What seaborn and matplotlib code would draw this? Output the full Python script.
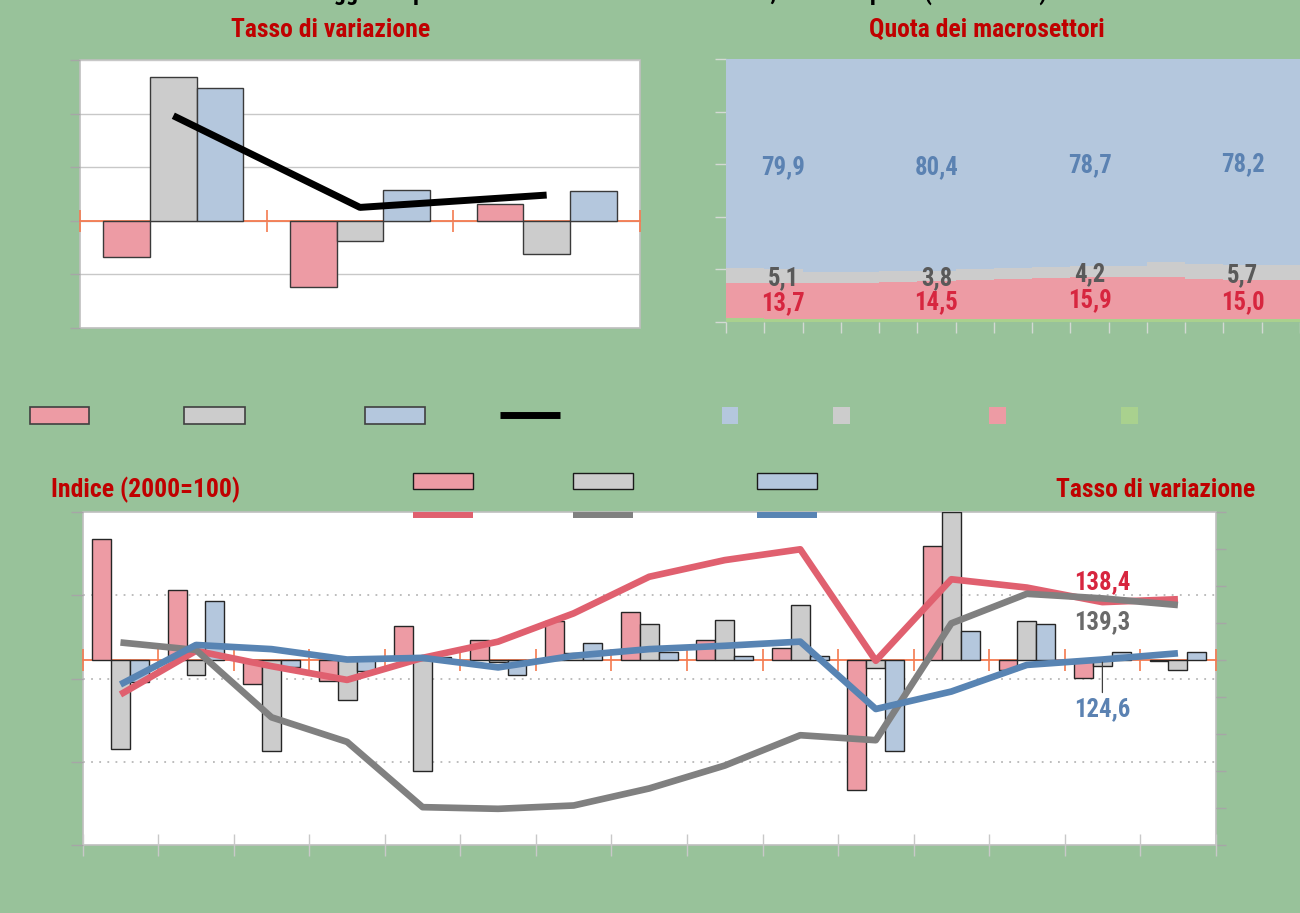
import numpy as np
import pandas as pd
import matplotlib
matplotlib.use("Agg")
import matplotlib.pyplot as plt
import seaborn as sns
from matplotlib import font_manager as fm
from matplotlib.patches import Rectangle
from matplotlib.lines import Line2D
from matplotlib.transforms import blended_transform_factory

# ---------------------------------------------------------------- data
settori = ["Industria", "Costruzioni", "Servizi"]

# tasso di variazione per periodo
periodi = ["P1", "P2", "P3"]
var_industria = [-1.36, -2.46, 0.62]
var_costruzioni = [5.36, -0.76, -1.24]
var_servizi = [4.94, 1.16, 1.12]
var_totale = [3.92, 0.50, 0.96]

# quota dei macrosettori (%)
anni = list(range(2000, 2015))
quota_servizi = [79.5, 79.9, 80.8, 80.8, 80.5, 80.4, 79.7, 79.3, 79.1, 78.7, 78.7, 77.2, 77.9, 78.2, 78.2]
quota_costruzioni = [5.5, 5.1, 4.5, 4.5, 4.2, 3.8, 4.2, 4.2, 4.1, 4.2, 4.2, 5.5, 5.7, 5.7, 5.7]
quota_industria = [13.6, 13.7, 13.4, 13.4, 14.0, 14.5, 14.9, 15.3, 15.6, 15.9, 15.9, 16.2, 15.3, 15.0, 15.0]
quota_agricoltura = [1.4, 1.3, 1.3, 1.3, 1.3, 1.3, 1.2, 1.2, 1.2, 1.2, 1.2, 1.1, 1.1, 1.1, 1.1]
anni_etichettati = [2001, 2005, 2009, 2013]

# tasso di variazione annuo
tasso_industria = [6.54, 3.82, -1.30, -1.14, 1.84, 1.11, 2.10, 2.61, 1.11, 0.65, -7.01, 6.16, -0.54, -0.97, -0.05]
tasso_costruzioni = [-4.78, -0.78, -4.92, -2.15, -6.02, -0.08, 0.38, 1.96, 2.18, 2.99, -0.43, 8.00, 2.12, -0.34, -0.51]
tasso_servizi = [-1.20, 3.19, -0.38, -0.60, 0.16, -0.79, 0.92, 0.45, 0.25, 0.25, -4.94, 1.58, 1.98, 0.46, 0.46]

# indice (2000=100)
indice_industria = [116.2, 126.7, 123.0, 119.7, 125.0, 128.9, 135.7, 144.5, 148.5, 151.1, 124.3, 143.9, 141.9, 138.4, 139.1]
indice_costruzioni = [128.7, 126.9, 110.7, 104.8, 89.1, 88.7, 89.5, 93.6, 99.1, 106.4, 105.2, 133.3, 140.4, 139.3, 137.7]
indice_servizi = [118.6, 128.1, 127.1, 124.6, 125.0, 122.7, 125.5, 127.1, 127.9, 128.9, 112.7, 116.9, 123.3, 124.6, 126.1]
anno_etichetta_indice = 2013

# ---------------------------------------------------------------- style
BG = "#98C29A"
bar_colors = {"Industria": "#ED9BA4", "Costruzioni": "#CCCCCC", "Servizi": "#B4C7DD"}
area_colors = {"Industria": "#ED9BA4", "Costruzioni": "#CCCCCC", "Servizi": "#B4C7DD",
               "Agricoltura": "#A9D18E"}
line_colors = {"Industria": "#E0606F", "Costruzioni": "#808080", "Servizi": "#5884B3"}
text_colors = {"Industria": "#D7263F", "Costruzioni": "#595959", "Servizi": "#5B82B2"}
DARKRED = "#C00000"
ORANGE = "#F47A4F"
FRAME = "#BFBFBF"
TICK = "#A6A6A6"

sns.set_theme(style="white")


def narrow_family():
    names = {f.name for f in fm.fontManager.ttflist}
    for cand in ("Liberation Sans Narrow", "Arial Narrow", "Noto Sans Condensed",
                 "Roboto Condensed", "Open Sans Condensed", "DejaVu Sans Condensed"):
        if cand in names:
            return cand
    return "Liberation Sans" if "Liberation Sans" in names else "DejaVu Sans"


FAM = narrow_family()
plt.rcParams["font.family"] = [FAM, "DejaVu Sans"]

W, H = 1300, 913
fig = plt.figure(figsize=(W / 100, H / 100), dpi=100)
fig.patch.set_facecolor(BG)

# font size so that a title keeps the width of a condensed bold face
probe = fig.text(0, 0, "Tasso di variazione", fontsize=19, fontweight="bold")
pw = probe.get_window_extent(fig.canvas.get_renderer()).width
probe.remove()
k = min(1.0, 199.6 / pw)
TITLE = 19 * k
NUM = 18.4 * k


def fmt(v):
    return f"{v:.1f}".replace(".", ",")


def fx(px):
    return px / W


def fy(py):
    return 1 - py / H


# ---------------------------------------------------------------- top-left: tasso di variazione
ax1 = fig.add_axes([fx(80), fy(328), 560 / W, 268 / H])
ax1.set_facecolor("white")
df1 = pd.DataFrame({
    "periodo": periodi * 3,
    "settore": np.repeat(settori, len(periodi)),
    "tasso": var_industria + var_costruzioni + var_servizi,
})
sns.barplot(data=df1, x="periodo", y="tasso", hue="settore", hue_order=settori,
            palette=bar_colors, saturation=1, width=0.75, edgecolor="#3A3A3A",
            linewidth=1, errorbar=None, legend=False, ax=ax1, zorder=2)
sns.lineplot(x=np.arange(len(periodi)), y=var_totale, color="black", linewidth=5,
             solid_capstyle="butt", ax=ax1, zorder=3)
ax1.set_xlim(-0.5, len(periodi) - 0.5)
ax1.set_ylim(-4, 6)
ax1.set_yticks(np.arange(-4, 7, 2))
ax1.set_xticks(np.arange(-0.5, len(periodi), 1))
ax1.set_xlabel("")
ax1.set_ylabel("")
ax1.set_axisbelow(True)
ax1.yaxis.grid(True, color="#C8C8C8", lw=1)
ax1.xaxis.grid(False)
ax1.tick_params(axis="x", direction="inout", length=16, width=1.2, color=ORANGE,
                bottom=True, labelbottom=False)
ax1.tick_params(axis="y", direction="out", length=7, width=1, color=TICK,
                left=True, labelleft=False)
for s in ("left", "right", "top"):
    ax1.spines[s].set_visible(False)
ax1.spines["bottom"].set_position(("data", 0))
ax1.spines["bottom"].set_color(ORANGE)
ax1.spines["bottom"].set_linewidth(1.3)
ax1.spines["bottom"].set_zorder(1.5)
ax1.patch.set_edgecolor(FRAME)
ax1.patch.set_linewidth(1.2)

# ---------------------------------------------------------------- top-right: quota dei macrosettori
ax2 = fig.add_axes([fx(726), fy(322), 574 / W, 262.5 / H])
ax2.set_facecolor(BG)
df2 = pd.DataFrame({
    "anno": anni * 4,
    "settore": np.repeat(["Servizi", "Costruzioni", "Industria", "Agricoltura"], len(anni)),
    "quota": quota_servizi + quota_costruzioni + quota_industria + quota_agricoltura,
})
sns.histplot(data=df2, x="anno", weights="quota", hue="settore",
             hue_order=["Servizi", "Costruzioni", "Industria", "Agricoltura"],
             palette=area_colors, multiple="fill", discrete=True, shrink=1,
             element="bars", linewidth=0, alpha=1, antialiased=False,
             legend=False, ax=ax2)
tab = df2.pivot(index="anno", columns="settore", values="quota")
tot = tab.sum(axis=1)
for a in anni_etichettati:
    base = 0.0
    for s in ["Agricoltura", "Industria", "Costruzioni", "Servizi"]:
        v = tab.loc[a, s]
        if s != "Agricoltura":
            ax2.text(a, (base + v / 2) / tot[a], fmt(v), ha="center", va="center_baseline",
                     color=text_colors[s], fontsize=NUM, fontweight="bold")
        base += v
ax2.set_xlim(anni[0] - 0.5, anni[-1] + 0.5)
ax2.set_ylim(0, 1)
ax2.set_yticks(np.arange(0, 1.01, 0.2))
ax2.set_xticks(np.arange(anni[0] - 0.5, anni[-1] + 1, 1))
ax2.set_xlabel("")
ax2.set_ylabel("")
ax2.tick_params(axis="both", direction="out", length=8, width=1, color="#D3D9D3",
                left=True, bottom=True, labelleft=False, labelbottom=False)
for s in ax2.spines.values():
    s.set_visible(False)

# ---------------------------------------------------------------- bottom: tasso (bars) + indice (lines)
ax3 = fig.add_axes([fx(82.7), fy(845), 1133 / W, 332.7 / H])
ax3.set_facecolor("white")
axL = ax3.twinx()

df3 = pd.DataFrame({
    "anno": anni * 3,
    "settore": np.repeat(settori, len(anni)),
    "tasso": tasso_industria + tasso_costruzioni + tasso_servizi,
})
sns.barplot(data=df3, x="anno", y="tasso", hue="settore", hue_order=settori,
            palette=bar_colors, saturation=1, width=0.75, edgecolor="#262626",
            linewidth=1, errorbar=None, legend=False, ax=ax3, zorder=2)

pos = np.arange(len(anni))
df4 = pd.DataFrame({
    "pos": np.tile(pos, 3),
    "settore": np.repeat(settori, len(anni)),
    "indice": indice_industria + indice_costruzioni + indice_servizi,
})
sns.lineplot(data=df4, x="pos", y="indice", hue="settore", hue_order=settori,
             palette=line_colors, linewidth=4.8, solid_capstyle="butt",
             legend=False, ax=axL)

ax3.set_xlim(-0.5, len(anni) - 0.5)
ax3.set_ylim(-10, 8)
axL.set_ylim(80, 160)

# dotted grid of the index scale, kept behind the bars
grid_tr = blended_transform_factory(ax3.transAxes, axL.transData)
for v in (100, 120, 140):
    ax3.add_artist(Line2D([0, 1], [v, v], transform=grid_tr, color="#B8B8B8",
                          lw=1.3, ls=(0, (1, 3.5)), zorder=0.6))

ax3.set_axisbelow(True)
ax3.grid(False)
ax3.set_xticks(np.arange(-0.5, len(anni), 1))
ax3.set_yticks(np.arange(-10, 9, 2))
ax3.yaxis.tick_right()
ax3.tick_params(axis="x", direction="inout", length=16, width=1.2, color=ORANGE,
                bottom=True, labelbottom=False)
ax3.tick_params(axis="y", direction="out", length=7, width=1, color=TICK,
                right=True, left=False, labelright=False, labelleft=False)
for s in ("left", "right", "top"):
    ax3.spines[s].set_visible(False)
ax3.spines["bottom"].set_position(("data", 0))
ax3.spines["bottom"].set_color(ORANGE)
ax3.spines["bottom"].set_linewidth(1.3)
ax3.spines["bottom"].set_zorder(1.5)
ax3.patch.set_edgecolor(FRAME)
ax3.patch.set_linewidth(1.2)
ax3.set_xlabel("")
ax3.set_ylabel("")

axL.xaxis.set_visible(True)
axL.yaxis.tick_left()
axL.set_yticks(np.arange(80, 161, 20))
axL.tick_params(axis="x", direction="inout", length=16, width=1, color="#C8C8C8",
                bottom=True, top=False, labelbottom=False)
axL.tick_params(axis="y", direction="out", length=8.5, width=1, color=TICK,
                left=True, right=False, labelleft=False, labelright=False)
for s in axL.spines.values():
    s.set_visible(False)
axL.grid(False)
axL.set_xlabel("")
axL.set_ylabel("")

i_lab = anni.index(anno_etichetta_indice)
axL.annotate(fmt(indice_industria[i_lab]), xy=(i_lab, indice_industria[i_lab]),
             xytext=(0, 16), textcoords="offset points", ha="center", va="center_baseline",
             color=text_colors["Industria"], fontsize=NUM, fontweight="bold")
axL.annotate(fmt(indice_costruzioni[i_lab]), xy=(i_lab, indice_costruzioni[i_lab]),
             xytext=(0, -15.6), textcoords="offset points", ha="center", va="center_baseline",
             color="#6A6A6A", fontsize=NUM, fontweight="bold")
axL.annotate(fmt(indice_servizi[i_lab]), xy=(i_lab, indice_servizi[i_lab]),
             xytext=(0, -34), textcoords="offset points", ha="center", va="center_baseline",
             color=text_colors["Servizi"], fontsize=NUM, fontweight="bold",
             arrowprops=dict(arrowstyle="-", color="#404040", lw=0.9, shrinkA=1, shrinkB=2))

# ---------------------------------------------------------------- titles
# main heading sits above the top edge; only its descenders reach the canvas
fig.text(0.5, fy(0), "Valore aggiunto per macrosettori: tasso di variazione, indice e quota (2000-2014)",
         ha="center", va="baseline", fontsize=18 * k, fontweight="bold", color="black")
fig.text(fx(331), fy(37), "Tasso di variazione", ha="center", va="baseline",
         fontsize=TITLE, fontweight="bold", color=DARKRED)
fig.text(fx(987), fy(37), "Quota dei macrosettori", ha="center", va="baseline",
         fontsize=TITLE, fontweight="bold", color=DARKRED)
fig.text(fx(146), fy(497), "Indice (2000=100)", ha="center", va="baseline",
         fontsize=TITLE, fontweight="bold", color=DARKRED)
fig.text(fx(1156), fy(497), "Tasso di variazione", ha="center", va="baseline",
         fontsize=TITLE, fontweight="bold", color=DARKRED)


# ---------------------------------------------------------------- legend keys
def key_box(x0, y0, x1, y1, color, edge=None, lw=1.2):
    fig.add_artist(Rectangle((fx(x0), fy(y1)), (x1 - x0) / W, (y1 - y0) / H,
                             transform=fig.transFigure, facecolor=color,
                             edgecolor=edge if edge else "none", linewidth=lw if edge else 0,
                             zorder=5))


def key_line(x0, x1, y, color, lw):
    fig.add_artist(Line2D([fx(x0), fx(x1)], [fy(y), fy(y)], transform=fig.transFigure,
                          color=color, lw=lw, solid_capstyle="butt", zorder=5))


key_box(30, 407, 89, 424, bar_colors["Industria"], edge="#404040")
key_box(184, 407, 245, 424, bar_colors["Costruzioni"], edge="#404040")
key_box(365, 407, 425, 424, bar_colors["Servizi"], edge="#404040")
key_line(500, 560, 415.5, "black", 5)
key_box(722, 407, 738, 424, area_colors["Servizi"])
key_box(833, 407, 850, 424, area_colors["Costruzioni"])
key_box(989, 407, 1006, 424, area_colors["Industria"])
key_box(1121, 407, 1138, 424, area_colors["Agricoltura"])

for x0, s in zip((413, 573, 757), settori):
    key_box(x0, 473, x0 + 60, 489, bar_colors[s], edge="#1A1A1A", lw=1)
    key_line(x0, x0 + 60, 514.7, line_colors[s], 4.3)

fig.savefig("out.png", dpi=100, facecolor=BG)
